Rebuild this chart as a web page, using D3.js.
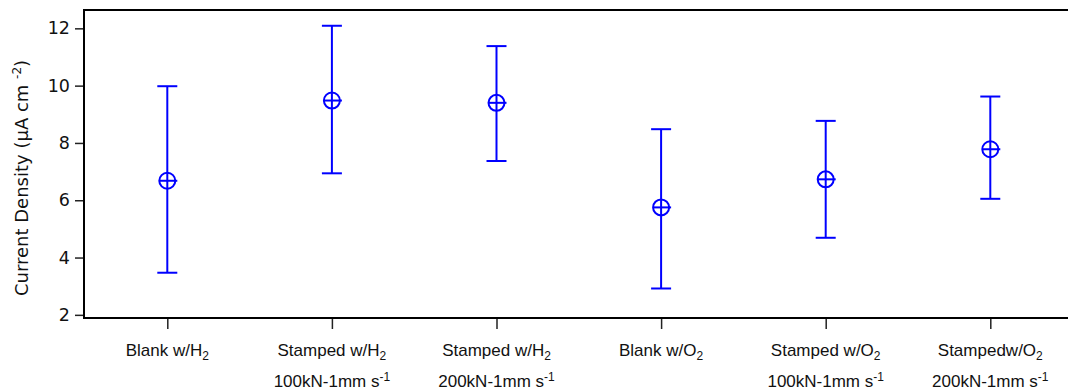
<!DOCTYPE html>
<html>
<head>
<meta charset="utf-8">
<script src="https://d3js.org/d3.v7.min.js"></script>
<style>
  body { margin: 0; background: #fff; }
</style>
</head>
<body>
<script>
// data
const categories = ["blankH2", "stamp100H2", "stamp200H2", "blankO2", "stamp100O2", "stamp200O2"];
// label parts: "<main><gas>" + subscript 2, second line "<rate>" + superscript -1
const labelMain = ["Blank w/", "Stamped w/", "Stamped w/", "Blank w/", "Stamped w/", "Stampedw/"];
const labelGas = ["H", "H", "H", "O", "O", "O"];
const labelRate = ["", "100kN-1mm s", "200kN-1mm s", "", "100kN-1mm s", "200kN-1mm s"];
const means = [6.68, 9.48, 9.40, 5.75, 6.73, 7.78];
const upper = [9.98, 12.09, 11.38, 8.48, 8.77, 9.62];
const lower = [3.47, 6.94, 7.37, 2.92, 4.69, 6.05];
const yTicks = [2, 4, 6, 8, 10, 12];

const width = 1068, height = 390;
const plotLeft = 84, plotTop = 10, plotBottom = 318;
const blue = "#0000ff";
const verdana = "'DejaVu Sans', Verdana, sans-serif";
const helv = "'Liberation Sans', Arial, Helvetica, sans-serif";

const rows = categories.map((c, i) => ({c: c, m: means[i], hi: upper[i], lo: lower[i]}));

let svg = d3.select("body").append("svg")
    .attr("width", width)
    .attr("height", height);

let x = d3.scalePoint()
    .domain(categories)
    .range([167.3, 990.3]);

let y = d3.scaleLinear()
    .domain([1.89, 12.64])
    .range([plotBottom, plotTop]);

// frame (right side runs off the picture)
svg.append("path")
    .attr("d", `M${width + 5},${plotTop}H${plotLeft}V${plotBottom}H${width + 5}`)
    .attr("fill", "none")
    .attr("stroke", "#000")
    .attr("stroke-width", 2);

// y axis
let yAxis = svg.append("g")
    .attr("transform", `translate(${plotLeft - 1},0)`)
    .call(d3.axisLeft(y).tickValues(yTicks).tickSize(8).tickPadding(5).tickFormat(d3.format("d")));
yAxis.select(".domain").remove();
yAxis.selectAll(".tick line").attr("stroke", "#222").attr("stroke-width", 1.5);
yAxis.selectAll(".tick text")
    .style("font-family", verdana)
    .style("font-size", "17.5px")
    .attr("fill", "#111");

// x axis
let xAxis = svg.append("g")
    .attr("transform", `translate(0,${plotBottom + 1})`)
    .call(d3.axisBottom(x).tickSize(10).tickFormat(""));
xAxis.select(".domain").remove();
xAxis.selectAll(".tick line").attr("stroke", "#222").attr("stroke-width", 1.5);

// category labels
let labels = svg.append("g")
    .style("font-family", helv)
    .style("font-size", "17px")
    .attr("fill", "#111")
    .attr("text-anchor", "middle");

categories.forEach((c, i) => {
    let t1 = labels.append("text").attr("x", x(c)).attr("y", 356);
    t1.append("tspan").text(labelMain[i] + labelGas[i]);
    t1.append("tspan").style("font-size", "12px").attr("dy", 4).text("2");
    if (labelRate[i]) {
        let t2 = labels.append("text").attr("x", x(c)).attr("y", 387);
        t2.append("tspan").text(labelRate[i]);
        t2.append("tspan").style("font-size", "12px").attr("dy", -6).text("-1");
    }
});

// y title
let title = svg.append("text")
    .attr("transform", `translate(28,178) rotate(-90)`)
    .attr("text-anchor", "middle")
    .style("font-family", verdana)
    .style("font-size", "18px")
    .attr("fill", "#111");
title.append("tspan").text("Current Density (\u03bcA cm ");
title.append("tspan").style("font-size", "12px").attr("dy", -7).text("-2");
title.append("tspan").attr("dy", 7).text(")");

// error bars
let g = svg.append("g")
    .attr("stroke", blue)
    .attr("stroke-width", 2)
    .attr("fill", "none");

g.selectAll(".bar")
    .data(rows)
    .join("line")
    .attr("class", "bar")
    .attr("x1", d => x(d.c)).attr("x2", d => x(d.c))
    .attr("y1", d => y(d.hi)).attr("y2", d => y(d.lo));

g.selectAll(".capTop")
    .data(rows)
    .join("line")
    .attr("class", "capTop")
    .attr("x1", d => x(d.c) - 10).attr("x2", d => x(d.c) + 10)
    .attr("y1", d => y(d.hi)).attr("y2", d => y(d.hi));

g.selectAll(".capBot")
    .data(rows)
    .join("line")
    .attr("class", "capBot")
    .attr("x1", d => x(d.c) - 10).attr("x2", d => x(d.c) + 10)
    .attr("y1", d => y(d.lo)).attr("y2", d => y(d.lo));

// markers: circle with cross
g.selectAll(".mark")
    .data(rows)
    .join("circle")
    .attr("class", "mark")
    .attr("cx", d => x(d.c))
    .attr("cy", d => y(d.m))
    .attr("r", 8)
    .attr("fill", "#fff");

g.selectAll(".cross")
    .data(rows)
    .join("line")
    .attr("class", "cross")
    .attr("x1", d => x(d.c) - 8).attr("x2", d => x(d.c) + 10)
    .attr("y1", d => y(d.m)).attr("y2", d => y(d.m));

g.selectAll(".vcross")
    .data(rows)
    .join("line")
    .attr("class", "vcross")
    .attr("x1", d => x(d.c)).attr("x2", d => x(d.c))
    .attr("y1", d => y(d.m) - 8).attr("y2", d => y(d.m) + 8);
</script>
</body>
</html>
